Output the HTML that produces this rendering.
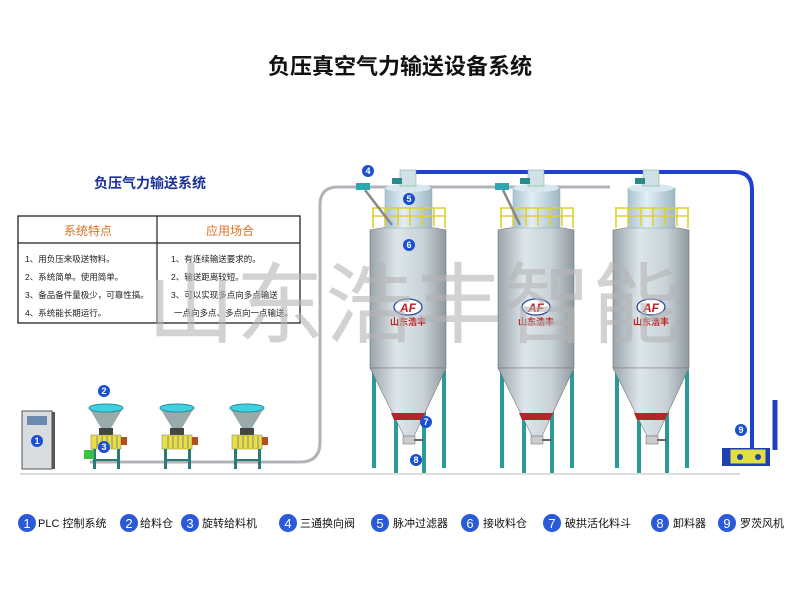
<!DOCTYPE html>
<html><head><meta charset="utf-8"><style>
html,body{margin:0;padding:0;background:#fff;width:800px;height:600px;overflow:hidden}
svg{display:block}
text{font-family:"Liberation Sans","Noto Sans CJK SC",sans-serif}
</style></head><body>
<svg width="800" height="600" viewBox="0 0 800 600" xmlns="http://www.w3.org/2000/svg">
<defs>
<linearGradient id="silo" x1="0" x2="1" y1="0" y2="0">
<stop offset="0" stop-color="#9aa4aa"/><stop offset="0.35" stop-color="#dde6ea"/><stop offset="0.7" stop-color="#c8d2d7"/><stop offset="1" stop-color="#8f999f"/></linearGradient>
<linearGradient id="filt" x1="0" x2="1"><stop offset="0" stop-color="#a9c3cf"/><stop offset="0.4" stop-color="#e3f0f5"/><stop offset="1" stop-color="#9fb7c2"/></linearGradient>
<g id="silo1">
 <rect x="2" y="210" width="4" height="98" fill="#2a9a9a"/>
 <rect x="72" y="210" width="4" height="98" fill="#2a9a9a"/>
 <rect x="24" y="218" width="4" height="95" fill="#2a9a9a"/>
 <rect x="52" y="218" width="4" height="95" fill="#2a9a9a"/>
 <path d="M0 70 Q38 62 76 70 L76 208 L0 208 Z" fill="url(#silo)" stroke="#777" stroke-width="0.6"/>
 <path d="M0 208 L76 208 L44 276 L34 276 Z" fill="url(#silo)" stroke="#777" stroke-width="0.6"/>
 <path d="M21 253 L55 253 L52 260 L24 260 Z" fill="#b0272a"/>
 <rect x="33" y="276" width="12" height="8" fill="#ccc" stroke="#666" stroke-width="0.5"/>
 <line x1="44" y1="280" x2="54" y2="280" stroke="#666" stroke-width="2"/>
 <rect x="15" y="28" width="47" height="40" fill="url(#filt)" stroke="#8aa" stroke-width="0.5"/>
 <ellipse cx="38" cy="28" rx="23" ry="4" fill="#d8e8ee"/>
 <rect x="30" y="10" width="16" height="16" fill="#cfe0e6" stroke="#7a8" stroke-width="0.5"/>
 <rect x="22" y="18" width="10" height="6" fill="#2a8a8a"/>
 <g stroke="#e0d030" stroke-width="1.6" fill="none">
  <line x1="2" y1="48" x2="76" y2="48"/><line x1="2" y1="56" x2="76" y2="56"/>
  <line x1="3" y1="48" x2="3" y2="68"/><line x1="15" y1="48" x2="15" y2="66"/><line x1="28" y1="48" x2="28" y2="66"/>
  <line x1="40" y1="48" x2="40" y2="66"/><line x1="52" y1="48" x2="52" y2="66"/><line x1="64" y1="48" x2="64" y2="66"/><line x1="75" y1="48" x2="75" y2="68"/>
 </g>
 <ellipse cx="38" cy="147" rx="14" ry="8" fill="#fff" stroke="#2a4a9a" stroke-width="1.3"/>
 <text x="38" y="152" font-size="12" font-weight="bold" fill="#c02020" text-anchor="middle" font-style="italic">AF</text>
 <text x="38" y="165" font-size="9" fill="#c02020" text-anchor="middle" font-weight="bold">山东浩丰</text>
</g>
<g id="feeder">
 <path d="M0 2 L34 2 L22 22 L12 22 Z" fill="#9aa"/>
 <ellipse cx="17" cy="2" rx="17" ry="4" fill="#40d0e0" stroke="#2090a0"/>
 <rect x="10" y="22" width="14" height="7" fill="#444"/>
 <rect x="2" y="29" width="30" height="14" fill="#e8e040" stroke="#777" stroke-width="0.5"/>
 <g stroke="#888" stroke-width="1"><line x1="8" y1="30" x2="8" y2="42"/><line x1="13" y1="30" x2="13" y2="42"/><line x1="18" y1="30" x2="18" y2="42"/><line x1="23" y1="30" x2="23" y2="42"/><line x1="28" y1="30" x2="28" y2="42"/></g>
 <rect x="32" y="31" width="6" height="8" fill="#b05020"/>
 <rect x="4" y="43" width="3" height="20" fill="#2a7a7a"/><rect x="28" y="43" width="3" height="20" fill="#2a7a7a"/>
 <rect x="4" y="53" width="27" height="2" fill="#2a7a7a"/>
</g>
</defs>

<text x="400" y="74" font-size="22" font-weight="bold" text-anchor="middle" fill="#111">负压真空气力输送设备系统</text>
<text x="150" y="188" font-size="14" text-anchor="middle" fill="#1a2f9a" font-weight="bold">负压气力输送系统</text>

<rect x="18" y="216" width="282" height="107" fill="#fff" stroke="#222" stroke-width="1.3"/>
<line x1="18" y1="243" x2="300" y2="243" stroke="#222" stroke-width="1.2"/>
<line x1="157" y1="216" x2="157" y2="323" stroke="#222" stroke-width="1.2"/>
<text x="88" y="235" font-size="12" fill="#e07020" text-anchor="middle">系统特点</text>
<text x="230" y="235" font-size="12" fill="#e07020" text-anchor="middle">应用场合</text>
<g font-size="8.5" fill="#222">
<text x="25" y="262">1、用负压来吸送物料。</text>
<text x="25" y="280">2、系统简单。使用简单。</text>
<text x="25" y="298">3、备品备件量极少，可靠性搞。</text>
<text x="25" y="316">4、系统能长期运行。</text>
<text x="171" y="262">1、有连续输送要求的。</text>
<text x="171" y="280">2、输送距离较短。</text>
<text x="171" y="298">3、可以实现多点向多点输送</text>
<text x="174" y="316">一点向多点、多点向一点输送。</text>
</g>

<path d="M90 462 L300 462 Q320 462 320 442 L320 205 Q320 187 338 187 L610 187" fill="none" stroke="#b0b4b8" stroke-width="3"/>
<path d="M405 172 L735 172 Q752 172 752 190 L752 450" fill="none" stroke="#2040d0" stroke-width="4"/>
<line x1="775" y1="400" x2="775" y2="450" stroke="#2040c0" stroke-width="5"/>

<line x1="20" y1="474" x2="740" y2="474" stroke="#bbb" stroke-width="1"/>

<use href="#silo1" x="370" y="160"/>
<use href="#silo1" x="498" y="160"/>
<use href="#silo1" x="613" y="160"/>
<rect x="356" y="183" width="14" height="7" fill="#2aa8b0"/>
<rect x="495" y="183" width="14" height="7" fill="#2aa8b0"/>
<line x1="365" y1="190" x2="392" y2="225" stroke="#888" stroke-width="2.5"/>
<line x1="503" y1="190" x2="520" y2="225" stroke="#888" stroke-width="2.5"/>

<rect x="22" y="411" width="30" height="58" fill="#d8dcde" stroke="#555" stroke-width="1"/>
<rect x="52" y="412" width="3" height="57" fill="#555"/>
<rect x="27" y="416" width="20" height="9" fill="#6a8ab0"/>
<use href="#feeder" x="89" y="406"/>
<use href="#feeder" x="160" y="406"/>
<use href="#feeder" x="230" y="406"/>
<rect x="84" y="450" width="10" height="9" fill="#40c040"/>

<rect x="722" y="448" width="48" height="18" fill="#2040b0"/>
<rect x="730" y="449" width="36" height="15" fill="#e0e040" stroke="#2040b0"/>
<circle cx="740" cy="457" r="3" fill="#2040b0"/><circle cx="758" cy="457" r="3" fill="#2040b0"/>

<text x="414" y="336" font-size="88" fill="#b4b4b4" fill-opacity="0.6" text-anchor="middle" letter-spacing="1">山东浩丰智能</text>

<g font-size="9" font-weight="bold" fill="#fff" text-anchor="middle">
<circle cx="104" cy="391" r="6" fill="#1a50d0"/><text x="104" y="394">2</text>
<circle cx="37" cy="441" r="6" fill="#1a50d0"/><text x="37" y="444">1</text>
<circle cx="104" cy="447" r="6" fill="#1a50d0"/><text x="104" y="450">3</text>
<circle cx="368" cy="171" r="6" fill="#1a50d0"/><text x="368" y="174">4</text>
<circle cx="409" cy="199" r="6" fill="#1a50d0"/><text x="409" y="202">5</text>
<circle cx="409" cy="245" r="6" fill="#1a50d0"/><text x="409" y="248">6</text>
<circle cx="426" cy="422" r="6" fill="#1a50d0"/><text x="426" y="425">7</text>
<circle cx="416" cy="460" r="6" fill="#1a50d0"/><text x="416" y="463">8</text>
<circle cx="741" cy="430" r="6" fill="#1a50d0"/><text x="741" y="433">9</text>
</g>

<g font-size="11" fill="#111">
<g fill="#2a5ad8"><circle cx="27" cy="523" r="9"/><circle cx="129" cy="523" r="9"/><circle cx="190" cy="523" r="9"/><circle cx="288" cy="523" r="9"/><circle cx="380" cy="523" r="9"/><circle cx="470" cy="523" r="9"/><circle cx="552" cy="523" r="9"/><circle cx="660" cy="523" r="9"/><circle cx="727" cy="523" r="9"/></g>
<g fill="#fff" font-size="13" text-anchor="middle"><text x="27" y="528">1</text><text x="129" y="528">2</text><text x="190" y="528">3</text><text x="288" y="528">4</text><text x="380" y="528">5</text><text x="470" y="528">6</text><text x="552" y="528">7</text><text x="660" y="528">8</text><text x="727" y="528">9</text></g>
<text x="38" y="527">PLC 控制系统</text>
<text x="140" y="527">给料仓</text>
<text x="202" y="527">旋转给料机</text>
<text x="300" y="527">三通换向阀</text>
<text x="393" y="527">脉冲过滤器</text>
<text x="483" y="527">接收料仓</text>
<text x="565" y="527">破拱活化料斗</text>
<text x="673" y="527">卸料器</text>
<text x="740" y="527">罗茨风机</text>
</g>
</svg>
</body></html>
